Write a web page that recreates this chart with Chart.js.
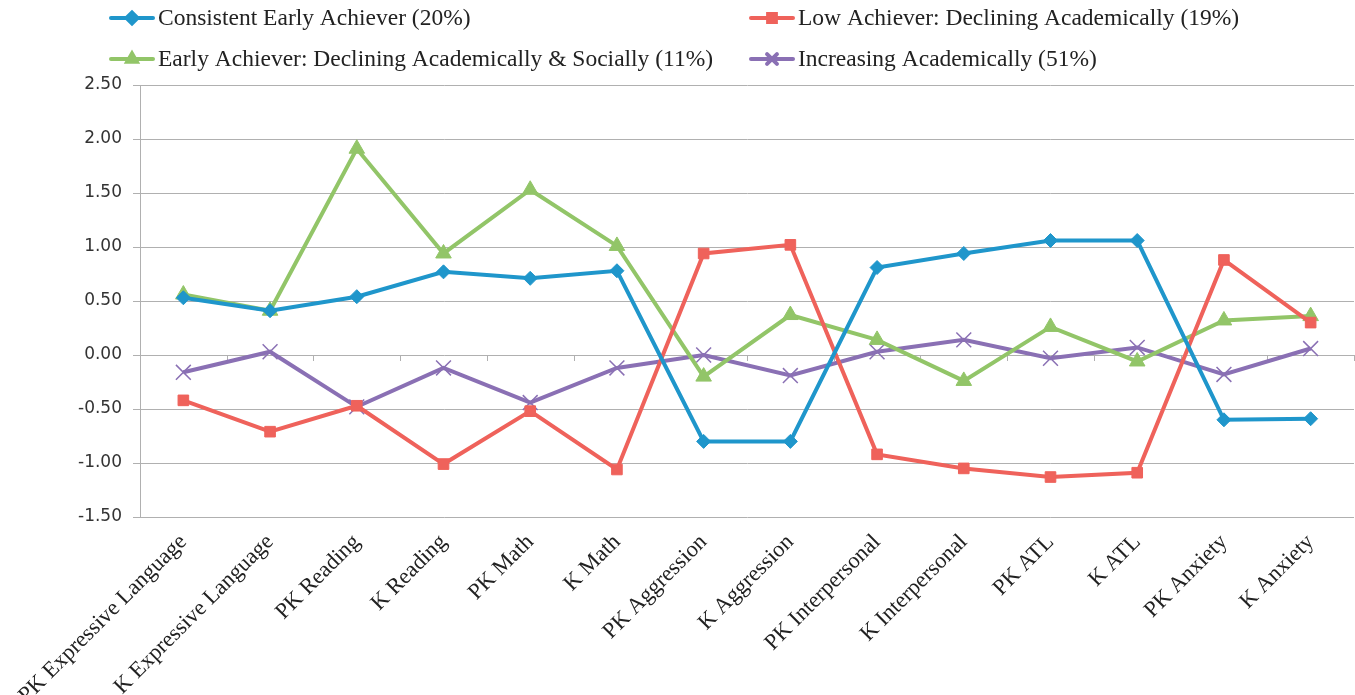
<!DOCTYPE html>
<html>
<head>
<meta charset="utf-8">
<script src="https://cdn.jsdelivr.net/npm/chart.js@4.4.0/dist/chart.umd.min.js"></script>
<style>
  html, body { margin: 0; padding: 0; background: #fff; overflow: hidden; }
  #wrap { position: relative; width: 1355px; height: 695px; }
  canvas { display: block; }
</style>
</head>
<body>
<div id="wrap"><canvas id="myChart" width="1355" height="695"></canvas></div>
<script>
// Categories and series values
const categories = [
  "PK Expressive Language", "K Expressive Language", "PK Reading", "K Reading",
  "PK Math", "K Math", "PK Aggression", "K Aggression", "PK Interpersonal",
  "K Interpersonal", "PK ATL", "K ATL", "PK Anxiety", "K Anxiety"
];
const consistentEarly = [0.53, 0.41, 0.54, 0.77, 0.71, 0.78, -0.80, -0.80, 0.81, 0.94, 1.06, 1.06, -0.60, -0.59];
const lowAchiever = [-0.42, -0.71, -0.47, -1.01, -0.52, -1.06, 0.94, 1.02, -0.92, -1.05, -1.13, -1.09, 0.88, 0.30];
const earlyDeclining = [0.56, 0.41, 1.91, 0.94, 1.53, 1.01, -0.20, 0.37, 0.14, -0.24, 0.26, -0.06, 0.32, 0.36];
const increasing = [-0.16, 0.03, -0.48, -0.12, -0.44, -0.12, 0.00, -0.19, 0.03, 0.14, -0.03, 0.07, -0.18, 0.06];

const seriesNames = [
  "Consistent Early Achiever (20%)",
  "Low Achiever: Declining Academically (19%)",
  "Early Achiever: Declining Academically & Socially (11%)",
  "Increasing Academically (51%)"
];
const yTicks = [-1.5, -1.0, -0.5, 0, 0.5, 1.0, 1.5, 2.0, 2.5];

const gridColor = "#b0b0b0";
const serif = "'Liberation Serif', 'Times New Roman', serif";

// Legend drawn in two aligned columns, like the original
const gridLegend = {
  id: "gridLegend",
  afterDraw(chart) {
    const ctx = chart.ctx;
    const cols = [111, 751];
    const rows = [18, 59];
    chart.data.datasets.forEach((ds, i) => {
      const x = cols[i % 2];
      const y = rows[Math.floor(i / 2)];
      ctx.save();
      ctx.strokeStyle = ds.borderColor;
      ctx.lineWidth = 4;
      ctx.lineCap = "round";
      ctx.beginPath();
      ctx.moveTo(x, y);
      ctx.lineTo(x + 42, y);
      ctx.stroke();
      ctx.fillStyle = ds.borderColor;
      ctx.strokeStyle = ds.borderColor;
      Chart.helpers.drawPoint(ctx, {
        pointStyle: ds.pointStyle,
        rotation: 0,
        radius: ds.pointStyle === "crossRot" ? 7 : 5.5,
        borderWidth: ds.pointBorderWidth
      }, x + 21, y);
      ctx.fillStyle = "#222";
      ctx.font = "23.5px " + serif;
      ctx.textBaseline = "middle";
      ctx.textAlign = "left";
      ctx.fillText(ds.label, x + 47, y + 1);
      ctx.restore();
    });
  }
};

// Small tick marks on the zero line between categories
const zeroTicks = {
  id: "zeroTicks",
  beforeDatasetsDraw(chart) {
    const ctx = chart.ctx;
    const xs = chart.scales.x;
    const y0 = chart.scales.y.getPixelForValue(0);
    ctx.save();
    ctx.strokeStyle = gridColor;
    ctx.lineWidth = 1;
    for (let i = 0; i <= categories.length; i++) {
      const px = Math.round(xs.getPixelForValue(i - 0.5)) + 0.5;
      ctx.beginPath();
      ctx.moveTo(px, y0);
      ctx.lineTo(px, y0 + 6);
      ctx.stroke();
    }
    ctx.restore();
  }
};

const ctx = document.getElementById("myChart").getContext("2d");
const chart = new Chart(ctx, {
  type: "line",
  data: {
    labels: categories,
    datasets: [
      {
        label: seriesNames[0],
        data: consistentEarly,
        borderColor: "#1f96cb",
        backgroundColor: "#1f96cb",
        pointStyle: "rectRot",
        pointRadius: 7,
        pointBorderWidth: 1
      },
      {
        label: seriesNames[1],
        data: lowAchiever,
        borderColor: "#ef625b",
        backgroundColor: "#ef625b",
        pointStyle: "rect",
        pointRadius: 7.5,
        pointBorderWidth: 1
      },
      {
        label: seriesNames[2],
        data: earlyDeclining,
        borderColor: "#92c568",
        backgroundColor: "#92c568",
        pointStyle: "triangle",
        pointRadius: 9,
        pointBorderWidth: 1
      },
      {
        label: seriesNames[3],
        data: increasing,
        borderColor: "#8a70b4",
        backgroundColor: "#8a70b4",
        pointStyle: "crossRot",
        pointRadius: 10.5,
        pointBorderWidth: 1.5
      }
    ]
  },
  options: {
    responsive: false,
    animation: false,
    devicePixelRatio: 1,
    elements: {
      line: { borderWidth: 4, tension: 0 }
    },
    layout: { autoPadding: false, padding: { top: 85, right: 1, left: 0, bottom: 0 } },
    plugins: {
      legend: { display: false },
      tooltip: { enabled: false }
    },
    scales: {
      x: {
        offset: true,
        grid: { display: false },
        border: { display: false },
        ticks: {
          autoSkip: false,
          minRotation: 45,
          maxRotation: 45,
          padding: 4,
          color: "#222",
          font: { family: serif, size: 22.5 }
        },
        afterFit(scale) {
          scale.height = 178;
          scale.paddingLeft = 0;
          scale.paddingRight = 0;
        }
      },
      y: {
        min: -1.5,
        max: 2.5,
        afterBuildTicks(scale) {
          scale.ticks = yTicks.map(v => ({ value: v }));
        },
        grid: { color: gridColor, lineWidth: 1, tickLength: 7 },
        border: { color: gridColor, width: 1 },
        ticks: {
          padding: 11,
          color: "#333",
          font: { family: "'DejaVu Sans', sans-serif", size: 17 },
          callback: v => v.toFixed(2)
        },
        afterFit(scale) {
          scale.width = 140;
        }
      }
    }
  },
  plugins: [zeroTicks, gridLegend]
});
</script>
</body>
</html>
